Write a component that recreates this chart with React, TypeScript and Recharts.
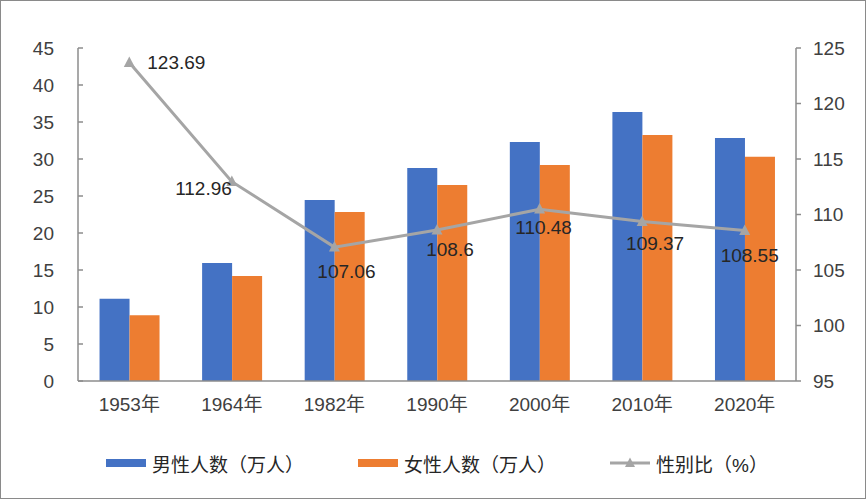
import React from 'react'
import { ComposedChart, Bar, Line, XAxis, YAxis } from 'recharts'

const YEARS = ['1953年', '1964年', '1982年', '1990年', '2000年', '2010年', '2020年']
const MALE = [11.1, 15.95, 24.45, 28.8, 32.3, 36.35, 32.85]
const FEMALE = [8.9, 14.2, 22.85, 26.5, 29.2, 33.25, 30.3]
const RATIO = [123.69, 112.96, 107.06, 108.6, 110.48, 109.37, 108.55]
const LEFT_TICKS = [0, 5, 10, 15, 20, 25, 30, 35, 40, 45]
const RIGHT_TICKS = [95, 100, 105, 110, 115, 120, 125]
const BOUNDARY_TICKS = [1, 2, 3, 4, 5, 6]
const NAMES = ['男性人数（万人）', '女性人数（万人）', '性别比（%）']

const C = {
  blue: '#4472C4', orange: '#ED7D31', gray: '#A5A5A5',
  axis: '#8c8c8c', tick: '#404040', label: '#262626', border: '#8a8a8a',
}
const FONT = '"Liberation Sans", "Noto Sans CJK SC", sans-serif'
const FS = 19

// where each data label sits relative to its point (Excel hand-placed labels)
const LABEL_POS: { dx: number; dy: number; anchor: 'start' | 'middle' | 'end' }[] = [
  { dx: 18, dy: 0, anchor: 'start' },
  { dx: 0, dy: 7, anchor: 'end' },
  { dx: 12, dy: 24, anchor: 'middle' },
  { dx: 13, dy: 19, anchor: 'middle' },
  { dx: 4, dy: 18, anchor: 'middle' },
  { dx: 13, dy: 22, anchor: 'middle' },
  { dx: 5, dy: 25, anchor: 'middle' },
]

const data = YEARS.map((y, i) => ({ year: y, male: MALE[i], female: FEMALE[i], ratio: RATIO[i] }))

const Triangle = ({ cx, cy, size = 10 }: { cx: number; cy: number; size?: number }) => (
  <path d={`M${cx},${cy - size * 0.55} L${cx + size / 2},${cy + size * 0.4} L${cx - size / 2},${cy + size * 0.4} Z`} fill={C.gray} />
)

const RatioLabel = (p: any) => {
  const pos = LABEL_POS[p.index] || { dx: 0, dy: 20, anchor: 'middle' }
  return (
    <text x={p.x + pos.dx} y={p.y + pos.dy} textAnchor={pos.anchor} dominantBaseline="central"
      fontSize={FS} fill={C.label} fontFamily={FONT}>
      {p.value}
    </text>
  )
}

function LegendBox() {
  const item = { display: 'flex', alignItems: 'center', gap: 6 } as React.CSSProperties
  return (
    <div style={{ position: 'absolute', left: 105, top: 448, height: 28, display: 'flex', alignItems: 'center', gap: 54, fontSize: FS, color: C.label, fontFamily: FONT }}>
      <div style={item}><span style={{ width: 40, height: 8, background: C.blue, display: 'inline-block' }} />{NAMES[0]}</div>
      <div style={item}><span style={{ width: 40, height: 8, background: C.orange, display: 'inline-block' }} />{NAMES[1]}</div>
      <div style={item}>
        <svg width={40} height={14}>
          <line x1={0} y1={7} x2={40} y2={7} stroke={C.gray} strokeWidth={3} />
          <Triangle cx={20} cy={7} size={10} />
        </svg>
        {NAMES[2]}
      </div>
    </div>
  )
}

export default function App() {
  const tickStyle = { fontSize: FS, fill: C.tick, fontFamily: FONT }
  return (
    <div style={{ position: 'absolute', left: 0, top: 0, width: 866, height: 499, boxSizing: 'border-box', border: `1px solid ${C.border}`, background: '#fff', fontFamily: FONT }}>
      <ComposedChart width={864} height={497} data={data} margin={{ top: 47, right: 9, bottom: 77, left: 17 }}
        barGap={0} barCategoryGap="21%">
        <XAxis xAxisId="grid" type="number" domain={[0, 7]} allowDataOverflow ticks={BOUNDARY_TICKS}
          tick={false} axisLine={false} tickSize={-5} height={0} stroke={C.axis} tickLine={{ stroke: C.axis, strokeWidth: 1.5 }} />
        <XAxis dataKey="year" tick={tickStyle} tickLine={false} tickMargin={11} height={40}
          axisLine={{ stroke: C.axis, strokeWidth: 1.5 }} interval={0} />
        <YAxis yAxisId="left" domain={[0, 45]} ticks={LEFT_TICKS} width={60} tick={tickStyle}
          tickSize={-5} tickMargin={29} axisLine={{ stroke: C.axis, strokeWidth: 1.5 }} tickLine={{ stroke: C.axis, strokeWidth: 1.5 }} />
        <YAxis yAxisId="right" orientation="right" domain={[95, 125]} ticks={RIGHT_TICKS} width={60} tick={{ ...tickStyle, textAnchor: 'start' }}
          tickSize={5} tickMargin={12} axisLine={{ stroke: C.axis, strokeWidth: 1.5 }} tickLine={{ stroke: C.axis, strokeWidth: 1.5 }} />
        <Bar yAxisId="left" dataKey="male" name={NAMES[0]} fill={C.blue} isAnimationActive={false} />
        <Bar yAxisId="left" dataKey="female" name={NAMES[1]} fill={C.orange} isAnimationActive={false} />
        <Line yAxisId="right" dataKey="ratio" name={NAMES[2]} stroke={C.gray} strokeWidth={3} isAnimationActive={false}
          dot={(p: any) => <Triangle key={p.index} cx={p.cx} cy={p.cy} size={11} />}
          activeDot={false} label={RatioLabel} />
      </ComposedChart>
      <LegendBox />
    </div>
  )
}
